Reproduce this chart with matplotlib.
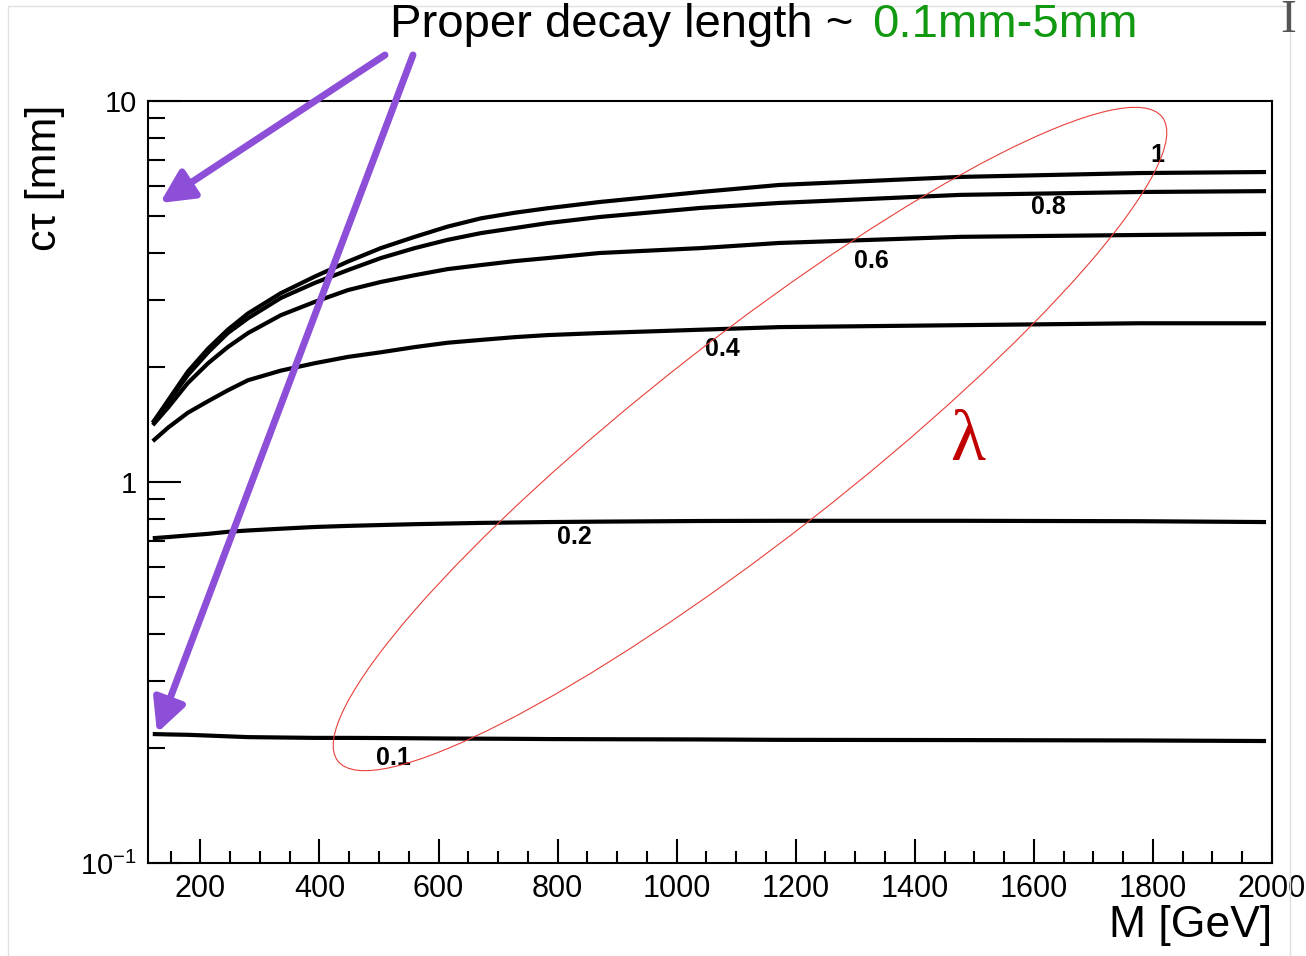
import matplotlib
matplotlib.use('Agg')
import matplotlib.pyplot as plt
from matplotlib.patches import Ellipse, Rectangle
from matplotlib.ticker import FixedLocator, NullFormatter

plt.rcParams['font.family'] = ['Liberation Sans', 'DejaVu Sans']
plt.rcParams['mathtext.default'] = 'regular'

# mass grid [GeV] shared by all curves
mass = [120, 146, 179, 213, 246, 280, 335, 392, 448, 503, 560, 615, 671, 728, 783,
        870, 1040, 1172, 1476, 1778, 1990]

# proper decay length c*tau [mm] for each coupling lambda
ctau_1 = [1.43, 1.64, 1.95, 2.24, 2.51, 2.77, 3.13, 3.46, 3.79, 4.11, 4.40, 4.68, 4.92, 5.09, 5.23,
          5.43, 5.77, 6.02, 6.32, 6.47, 6.51]
ctau_08 = [1.43, 1.62, 1.91, 2.19, 2.46, 2.69, 3.04, 3.33, 3.60, 3.87, 4.11, 4.32, 4.50, 4.64, 4.78,
           4.96, 5.24, 5.40, 5.67, 5.77, 5.80]
ctau_06 = [1.41, 1.57, 1.82, 2.05, 2.26, 2.46, 2.74, 2.97, 3.19, 3.35, 3.49, 3.62, 3.71, 3.80, 3.87,
           3.99, 4.11, 4.24, 4.40, 4.45, 4.48]
ctau_04 = [1.28, 1.39, 1.52, 1.63, 1.74, 1.85, 1.96, 2.05, 2.13, 2.19, 2.26, 2.32, 2.36, 2.40, 2.43,
           2.46, 2.51, 2.55, 2.58, 2.61, 2.61]
ctau_02 = [0.712, 0.717, 0.724, 0.731, 0.740, 0.746, 0.754, 0.762, 0.767, 0.771, 0.775, 0.778, 0.781,
           0.783, 0.785, 0.787, 0.790, 0.791, 0.791, 0.789, 0.785]
ctau_01 = [0.218, 0.2175, 0.217, 0.216, 0.215, 0.214, 0.2135, 0.213, 0.213, 0.2128, 0.2125, 0.2122,
           0.212, 0.2118, 0.2115, 0.2113, 0.211, 0.2105, 0.2102, 0.2097, 0.209]

curves = [ctau_1, ctau_08, ctau_06, ctau_04, ctau_02, ctau_01]
lambda_labels = ['1', '0.8', '0.6', '0.4', '0.2', '0.1']
# where each lambda label sits (mass, ctau)
label_pos = [(1807, 7.2), (1625, 5.27), (1327, 3.8), (1077, 2.23), (828, 0.717), (525, 0.189)]

x_major = [200, 400, 600, 800, 1000, 1200, 1400, 1600, 1800, 2000]

W, H = 1306, 956
fig = plt.figure(figsize=(W / 100, H / 100), dpi=100)
ax = fig.add_axes([148 / W, 1 - 863 / H, (1272 - 148) / W, (863 - 101) / H])

for c in curves:
    ax.plot(mass, c, color='black', lw=3.0, solid_capstyle='butt', solid_joinstyle='round')
for lab, (mx, cy) in zip(lambda_labels, label_pos):
    ax.text(mx, cy, lab, fontsize=18, fontweight='bold', ha='center', va='center')

ax.set_yscale('log')
ax.set_xlim(112, 2000)
ax.set_ylim(0.1, 10)

ax.xaxis.set_major_locator(FixedLocator(x_major))
ax.xaxis.set_minor_locator(FixedLocator(list(range(150, 2000, 50))))
ax.set_xticklabels([str(v) for v in x_major])
ax.yaxis.set_major_locator(FixedLocator([0.1, 1, 10]))
ax.set_yticklabels(['$10^{-1}$', '1', '10'])
ax.yaxis.set_minor_locator(FixedLocator([k * 0.1 for k in range(2, 10)] + list(range(2, 10))))
ax.yaxis.set_minor_formatter(NullFormatter())

ax.tick_params(which='both', direction='in', width=1.5, top=False, right=False)
ax.tick_params(axis='x', which='major', length=17, pad=8, labelsize=22)
ax.tick_params(axis='x', which='minor', length=8.5)
ax.tick_params(axis='y', which='major', length=24, pad=8, labelsize=21)
ax.tick_params(axis='y', which='minor', length=12)
for s in ax.spines.values():
    s.set_linewidth(1.5)

fig.text(1272 / W, 1 - 925 / H, 'M [GeV]', fontsize=32, ha='right', va='center')
fig.text(45 / W, 1 - 178 / H, 'c\u03c4 [mm]', fontsize=31, rotation=90, ha='center', va='center')

# overlay in pixel coordinates for the slide annotations
ov = fig.add_axes([0, 0, 1, 1], zorder=10)
ov.set_xlim(0, W)
ov.set_ylim(H, 0)
ov.axis('off')
ov.patch.set_alpha(0)

ov.add_patch(Rectangle((8, 6), 1282, 960, fill=False, edgecolor='#e0e0e0', lw=1))
ov.add_patch(Ellipse((750, 439), 1046, 202, angle=-38, fill=False, edgecolor='#e8403a', lw=0.8))
ov.text(968, 442, '\u03bb', fontsize=52, color='#c00000', family=['Liberation Serif', 'DejaVu Serif'],
        ha='center', va='center')

purple = '#8d4fd8'
arrow_style = dict(arrowstyle='-|>,head_width=0.5,head_length=1.0', lw=5, color=purple,
                   mutation_scale=20, shrinkA=0, shrinkB=0)
ov.annotate('', xy=(160, 203), xytext=(385, 55), arrowprops=arrow_style)
ov.annotate('', xy=(157, 733), xytext=(413, 55), arrowprops=arrow_style)

ov.text(390, 37, 'Proper decay length ~ ', fontsize=34, color='black', ha='left', va='baseline')
ov.text(872, 37, '0.1mm-5mm', fontsize=34, color='#119911', ha='left', va='baseline')
ov.text(1280, 32, 'I', fontsize=34, color='#555555', family=['Liberation Serif', 'DejaVu Serif'],
        ha='left', va='baseline')

fig.savefig('out.png', dpi=100, facecolor='white')
